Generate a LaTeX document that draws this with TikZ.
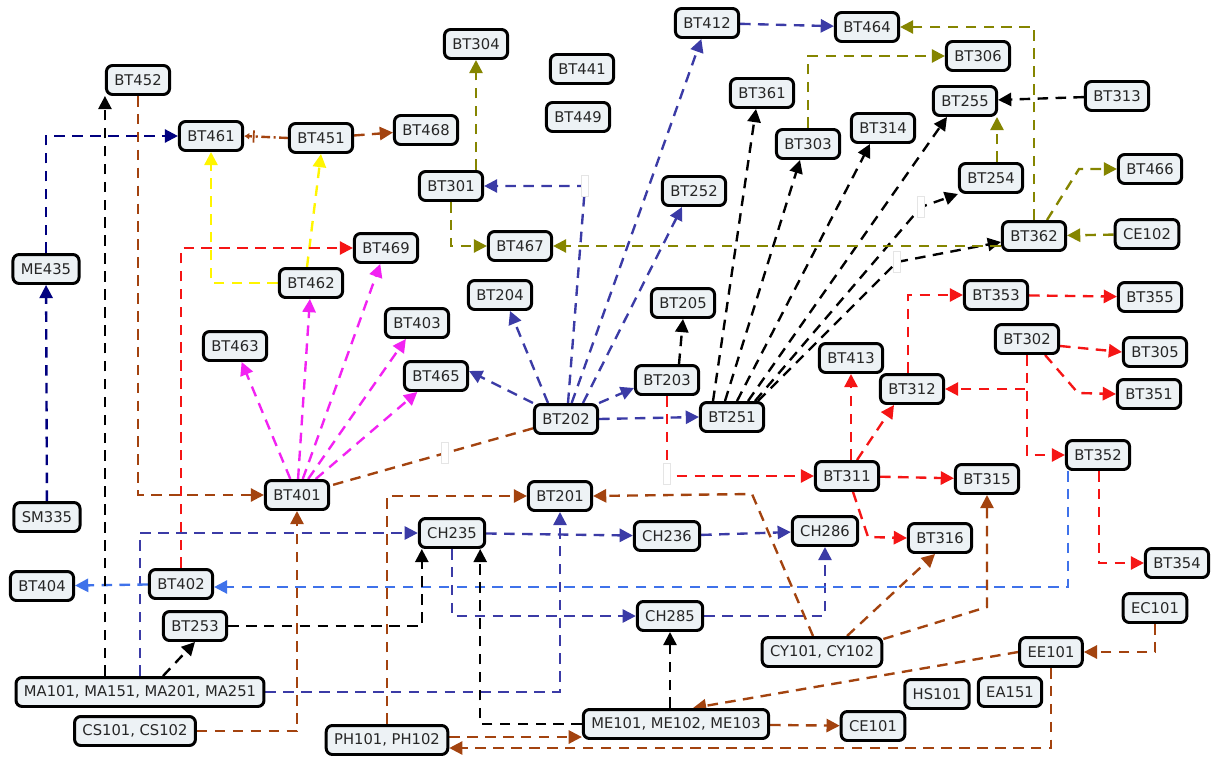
\documentclass[tikz,border=0pt]{standalone}
\usepackage{fontspec}
\setmainfont{DejaVu Sans}
\usetikzlibrary{arrows.meta,calc,backgrounds}
\definecolor{boxfill}{HTML}{EDF2F5}
\definecolor{navyblue}{HTML}{00007F}
\definecolor{indigoblue}{HTML}{3B3BA6}
\definecolor{royalblue}{HTML}{3F72EA}
\definecolor{rust}{HTML}{A3430F}
\definecolor{olivegreen}{HTML}{858500}
\definecolor{brightred}{HTML}{F51515}
\definecolor{pinkmag}{HTML}{F222F2}
\definecolor{brightyellow}{HTML}{FFF500}
\tikzset{
  course/.style={draw,line width=1.7pt,rounded corners=3.5pt,fill=boxfill,text=black!85,
    font=\fontsize{8.4}{9}\selectfont,minimum height=16.5pt,inner xsep=4.5pt,inner ysep=2pt},
  plain/.style={line width=1.35pt,dash pattern=on 6pt off 4.2pt},
  link/.style={plain,-{Triangle[length=7.5pt,width=7.5pt]}},
  gap/.style={draw=black!10,line width=0.6pt,fill=white,minimum width=3.5pt,minimum height=12pt,inner sep=0pt},
}
\begin{document}
\begin{tikzpicture}[x=0.02cm,y=-0.02cm]
\useasboundingbox (0,0) rectangle (1213,757);
% courses
\node[course] (BT452) at (138,80) {BT452};
\node[course] (BT461) at (211,136) {BT461};
\node[course] (BT451) at (321,138) {BT451};
\node[course] (BT468) at (426,130) {BT468};
\node[course] (BT304) at (476,44) {BT304};
\node[course] (BT441) at (582,69) {BT441};
\node[course] (BT449) at (578,117) {BT449};
\node[course] (BT412) at (707,23) {BT412};
\node[course] (BT464) at (867,27) {BT464};
\node[course] (BT306) at (978,56) {BT306};
\node[course] (BT361) at (762,93) {BT361};
\node[course] (BT303) at (808,144) {BT303};
\node[course] (BT314) at (883,128) {BT314};
\node[course] (BT255) at (965,101) {BT255};
\node[course] (BT313) at (1117,96) {BT313};
\node[course] (BT254) at (991,178) {BT254};
\node[course] (BT466) at (1150,169) {BT466};
\node[course] (BT362) at (1034,236) {BT362};
\node[course] (CE102) at (1147,234) {CE102};
\node[course] (BT301) at (451,186) {BT301};
\node[course] (BT252) at (694,191) {BT252};
\node[course] (BT467) at (520,246) {BT467};
\node[course] (ME435) at (46,269) {ME435};
\node[course] (BT462) at (311,283) {BT462};
\node[course] (BT469) at (386,248) {BT469};
\node[course] (BT463) at (235,346) {BT463};
\node[course] (BT403) at (417,323) {BT403};
\node[course] (BT204) at (500,295) {BT204};
\node[course] (BT205) at (683,303) {BT205};
\node[course] (BT465) at (436,376) {BT465};
\node[course] (BT202) at (566,419) {BT202};
\node[course] (BT203) at (667,380) {BT203};
\node[course] (BT251) at (732,417) {BT251};
\node[course] (BT413) at (851,358) {BT413};
\node[course] (BT312) at (912,389) {BT312};
\node[course] (BT353) at (996,295) {BT353};
\node[course] (BT355) at (1150,297) {BT355};
\node[course] (BT302) at (1027,339) {BT302};
\node[course] (BT305) at (1155,352) {BT305};
\node[course] (BT351) at (1149,394) {BT351};
\node[course] (BT352) at (1098,455) {BT352};
\node[course] (BT311) at (847,476) {BT311};
\node[course] (BT315) at (987,479) {BT315};
\node[course] (BT401) at (297,495) {BT401};
\node[course] (BT201) at (560,496) {BT201};
\node[course] (SM335) at (47,517) {SM335};
\node[course] (CH235) at (452,533) {CH235};
\node[course] (CH236) at (667,536) {CH236};
\node[course] (CH286) at (825,531) {CH286};
\node[course] (BT316) at (940,538) {BT316};
\node[course] (BT404) at (42,586) {BT404};
\node[course] (BT402) at (181,584) {BT402};
\node[course] (BT253) at (195,626) {BT253};
\node[course] (CH285) at (670,616) {CH285};
\node[course] (BT354) at (1177,563) {BT354};
\node[course] (EC101) at (1155,608) {EC101};
\node[course] (CY) at (822,652) {CY101, CY102};
\node[course] (EE101) at (1051,652) {EE101};
\node[course] (MA) at (140,692) {MA101, MA151, MA201, MA251};
\node[course] (HS101) at (937,694) {HS101};
\node[course] (EA151) at (1010,692) {EA151};
\node[course] (CS) at (135,731) {CS101, CS102};
\node[course] (ME) at (676,724) {ME101, ME102, ME103};
\node[course] (CE101) at (873,726) {CE101};
\node[course] (PH) at (387,740) {PH101, PH102};
% bend points
\coordinate (g1) at (585,186);
\coordinate (g2) at (445,453);
\coordinate (g3) at (667,474);
\coordinate (g4) at (921,207);
\coordinate (g5) at (897,262);
\begin{scope}[on background layer]
% navy
\draw[link,navyblue] (SM335) -- (ME435);
\draw[link,navyblue] (ME435.north) |- (BT461.west);
% yellow
\draw[link,brightyellow] (BT462.west) -| (BT461.south);
\draw[link,brightyellow] ($(BT462.north)+(-4,0)$) -- (BT451.south);
% magenta
\draw[link,pinkmag] (BT401) -- (BT463);
\draw[link,pinkmag] (BT401) -- (BT462);
\draw[link,pinkmag] (BT401) -- (BT469);
\draw[link,pinkmag] (BT401) -- (BT403);
\draw[link,pinkmag] (BT401) -- (BT465);
% indigo
\draw[link,indigoblue] (BT202.north west) -- ($(BT465.east)+(0,-5)$);
\draw[link,indigoblue] ($(BT202.north)+(-18,0)$) -- ($(BT204.south)+(10,0)$);
\draw[link,indigoblue] ($(BT202.north)+(2,0)$) -- (g1) -- (BT301.east);
\draw[link,indigoblue] (BT202) -- (BT412);
\draw[link,indigoblue] ($(BT202.north)+(17,0)$) -- ($(BT252.south)+(-12,0)$);
\draw[link,indigoblue] (BT202.north east) -- ($(BT203.west)+(0,8)$);
\draw[link,indigoblue] (BT202.east) -- (BT251.west);
\draw[link,indigoblue] (BT412) -- (BT464);
\draw[link,indigoblue] (MA.north) |- (CH235.west);
\draw[link,indigoblue] (MA.east) -| (BT201.south);
\draw[link,indigoblue] (CH235) -- (CH236);
\draw[link,indigoblue] (CH236) -- (CH286);
\draw[link,indigoblue] (CH235.south) |- (CH285.west);
\draw[link,indigoblue] (CH285.east) -| (CH286.south);
% royal blue
\draw[link,royalblue] ($(BT352.south west)+(3,0)$) |- ($(BT402.east)+(0,3)$);
\draw[link,royalblue] (BT402) -- (BT404);
% black
\draw[link] (MA.north -| BT452.south west) -- (BT452.south west);
\draw[link] ($(MA.north)+(23,0)$) -- (BT253.south);
\draw[link] (BT253.east) -| ($(CH235.south west)+(4,0)$);
\draw[link] (ME.west) -| ($(CH235.south east)+(-6,0)$);
\draw[link] (ME.north -| CH285.south) -- (CH285.south);
\draw[link] ($(BT203.north)+(12,0)$) -- (BT205.south);
\draw[link] ($(BT251.north)+(-19,0)$) -- ($(BT361.south)+(-6,0)$);
\draw[link] ($(BT251.north)+(-7,0)$) -- ($(BT303.south)+(-8,0)$);
\draw[link] ($(BT251.north)+(5,0)$) -- ($(BT314.south)+(-13,0)$);
\draw[link] ($(BT251.north)+(16,0)$) -- ($(BT255.south)+(-18,0)$);
\draw[link] ($(BT251.north)+(23,0)$) -- (g4) -- (BT254.south west);
\draw[link] ($(BT251.north)+(26,0)$) -- (g5) -- ($(BT362.west)+(0,6)$);
\draw[link] (BT313) -- (BT255);
% olive
\draw[link,olivegreen] (BT301.north -| BT304.south) -- (BT304.south);
\draw[link,olivegreen] (BT301.south) |- (BT467.west);
\draw[link,olivegreen] (BT467.east -| BT362.west) -- (BT467.east);
\draw[link,olivegreen] (BT362.north) |- (BT464.east);
\draw[link,olivegreen] (BT303.north) |- (BT306.west);
\draw[link,olivegreen] ($(BT254.north)+(6,0)$) -- ($(BT255.south)+(32,0)$);
\draw[link,olivegreen] ($(BT362.north)+(13,0)$) -- (1079,169) -- (BT466.west);
\draw[link,olivegreen] (CE102) -- (BT362);
% red
\draw[link,brightred] (BT402.north) |- (BT469.west);
\draw[link,brightred] (BT203.south) |- (BT311.west);
\draw[link,brightred] (BT311.north -| BT413.south) -- (BT413.south);
\draw[link,brightred] ($(BT311.north)+(10,0)$) -- ($(BT312.south)+(-18,0)$);
\draw[link,brightred] (BT311) -- (BT315);
\draw[link,brightred] ($(BT311.south)+(6,0)$) -- (868,537) -- (BT316.west);
\draw[link,brightred] ($(BT312.north)+(-4,0)$) |- (BT353.west);
\draw[link,brightred] (BT353) -- (BT355);
\draw[link,brightred] ($(BT302.east)+(0,7)$) -- (BT305.west);
\draw[link,brightred] ($(BT302.south east)+(-15,0)$) -- (1078,393) -- (BT351.west);
\draw[link,brightred] (BT302.south) |- (BT312.east);
\draw[link,brightred] (BT302.south) |- (BT352.west);
\draw[link,brightred] ($(BT352.south)+(1,0)$) |- (BT354.west);
% brown
\draw[link,rust] (BT452.south) |- (BT401.west);
\draw[rust,line width=1.35pt,dash pattern=on 5pt off 2pt on 1.2pt off 2pt,
  -{Bar[width=7pt,line width=1pt,sep=2pt]Latex[length=3pt,width=4pt]}] (BT451.west) -- (BT461.east);
\draw[link,rust] (BT451) -- (BT468);
\draw[plain,rust] (BT202) -- (BT401);
\draw[link,rust] (CS.east) -| (BT401.south);
\draw[link,rust] (PH.north) |- (BT201.west);
\draw[link,rust] ($(CY.north)+(-9,0)$) -- (752,494) -- (BT201.east);
\draw[link,rust] ($(CY.north)+(25,0)$) -- ($(BT316.south)+(-5,0)$);
\draw[link,rust] ($(CY.north east)+(0,3)$) -- (987,607) -- (BT315.south);
\draw[link,rust] (EE101.west) -- ($(ME.north)+(17,0)$);
\draw[link,rust] (EC101.south) |- (EE101.east);
\draw[link,rust] (EE101.south) |- ($(PH.east)+(0,8)$);
\draw[link,rust] ($(PH.east)+(0,-3)$) -- ($(ME.west)+(0,13)$);
\draw[link,rust] (ME) -- (CE101);
\end{scope}
% empty edge labels
\node[gap] at (g1) {};
\node[gap] at (g2) {};
\node[gap] at (g3) {};
\node[gap] at (g4) {};
\node[gap] at (g5) {};
\end{tikzpicture}
\end{document}
